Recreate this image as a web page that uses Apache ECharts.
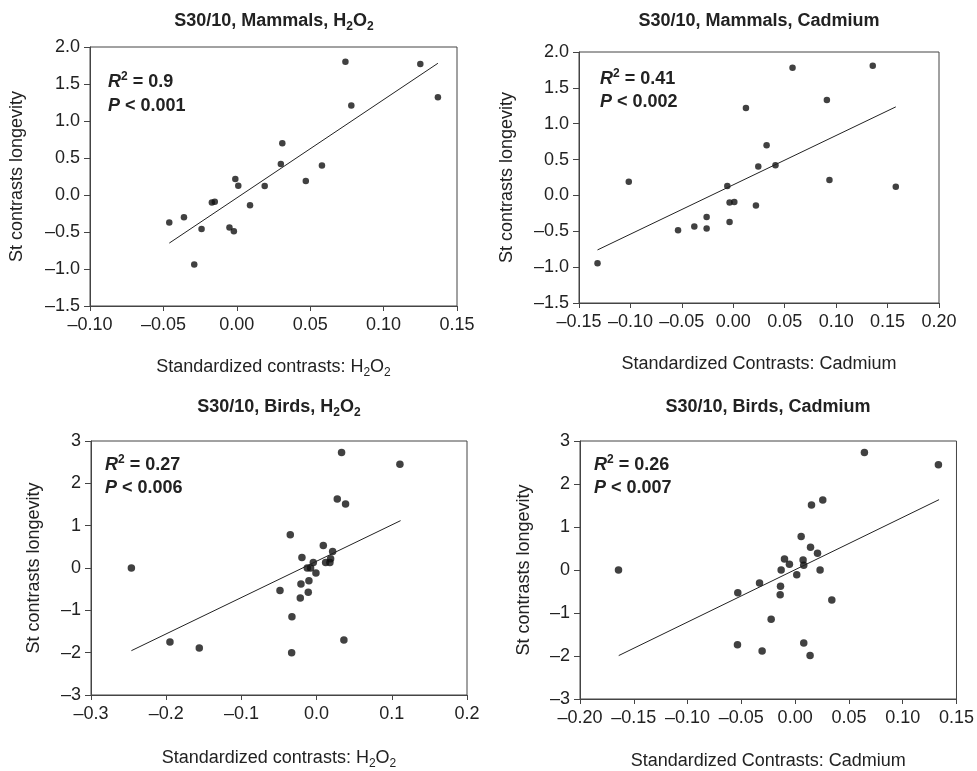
<!DOCTYPE html>
<html><head><meta charset="utf-8">
<script src="https://cdn.jsdelivr.net/npm/echarts@6/dist/echarts.min.js"></script>
<style>html,body{margin:0;padding:0;background:#fff}#c{width:977px;height:771px}</style>
</head><body><div id="c"></div>
<script>
const FONT = 'Liberation Sans, Arial, Helvetica, sans-serif';

// ---------- Panel 1: Mammals, H2O2 ----------
const mamH2O2X = [0.074, 0.125, 0.137, 0.078, 0.031, 0.030, 0.058, -0.001, 0.001, 0.019, 0.047, -0.017, -0.015, 0.009, -0.036, -0.046, -0.024, -0.005, -0.002, -0.029];
const mamH2O2Y = [1.80, 1.77, 1.32, 1.21, 0.70, 0.42, 0.40, 0.215, 0.125, 0.12, 0.19, -0.10, -0.09, -0.14, -0.30, -0.37, -0.46, -0.44, -0.49, -0.94];
const mamH2O2FitX = [-0.046, 0.137];
const mamH2O2FitY = [-0.65, 1.78];

// ---------- Panel 2: Mammals, Cadmium ----------
const mamCdX = [0.0576, 0.1356, 0.091, 0.0123, 0.0324, 0.0243, 0.041, -0.1016, 0.0935, 0.158, -0.0058, -0.0036, 0.001, 0.022, -0.0259, -0.0379, -0.0259, -0.0537, -0.0036, -0.132];
const mamCdY = [1.78, 1.81, 1.33, 1.22, 0.70, 0.405, 0.42, 0.19, 0.215, 0.12, 0.13, -0.10, -0.09, -0.14, -0.30, -0.435, -0.46, -0.485, -0.37, -0.945];
const mamCdFitX = [-0.132, 0.158];
const mamCdFitY = [-0.76, 1.235];

// ---------- Panel 3: Birds, H2O2 ----------
const birdH2O2X = [0.0332, 0.1108, 0.0275, 0.0385, -0.035, 0.0089, 0.0213, -0.0195, -0.0044, 0.012, 0.0177, 0.0186, -0.0124, -0.008, -0.0009, -0.2463, -0.0102, -0.0208, -0.0487, -0.0111, -0.0217, -0.0328, -0.195, -0.156, -0.0332, 0.0363];
const birdH2O2Y = [2.73, 2.45, 1.63, 1.51, 0.785, 0.53, 0.39, 0.25, 0.13, 0.13, 0.13, 0.22, 0.00, 0.00, -0.12, 0.00, -0.30, -0.375, -0.53, -0.57, -0.71, -1.15, -1.75, -1.89, -2.00, -1.70];
const birdH2O2FitX = [-0.2463, 0.1117];
const birdH2O2FitY = [-1.953, 1.119];

// ---------- Panel 4: Birds, Cadmium ----------
const birdCdX = [0.0644, 0.1332, 0.0257, 0.0152, 0.0056, 0.0143, 0.0208, -0.0099, -0.0053, 0.0074, 0.008, -0.013, 0.0232, 0.0015, -0.1642, -0.0331, -0.0136, -0.0533, -0.0139, 0.0341, -0.0223, -0.0536, -0.0307, 0.008, 0.0139];
const birdCdY = [2.73, 2.45, 1.63, 1.51, 0.78, 0.53, 0.39, 0.256, 0.136, 0.234, 0.113, 0.00, 0.00, -0.113, 0.00, -0.30, -0.377, -0.528, -0.573, -0.70, -1.146, -1.74, -1.884, -1.70, -1.99];
const birdCdFitX = [-0.164, 0.1338];
const birdCdFitY = [-1.99, 1.636];

// ---------- Axis ranges [min, max, interval] and label decimals ----------
const xRanges = [[-0.10, 0.15, 0.05], [-0.15, 0.20, 0.05], [-0.3, 0.2, 0.1], [-0.20, 0.15, 0.05]];
const yRanges = [[-1.5, 2.0, 0.5], [-1.5, 2.0, 0.5], [-3, 3, 1], [-3, 3, 1]];
const xDecimals = [2, 2, 1, 2];
const yDecimals = [1, 1, 0, 0];

// ---------- Texts ----------
const titles = ['{b|S30/10, Mammals, H}{s|2}{b|O}{s|2}', '{b|S30/10, Mammals, Cadmium}', '{b|S30/10, Birds, H}{s|2}{b|O}{s|2}', '{b|S30/10, Birds, Cadmium}'];
const xNames = ['{n|Standardized contrasts: H}{s|2}{n|O}{s|2}', '{n|Standardized Contrasts: Cadmium}', '{n|Standardized contrasts: H}{s|2}{n|O}{s|2}', '{n|Standardized Contrasts: Cadmium}'];
const yName = 'St contrasts longevity';
const r2Values = ['0.9', '0.41', '0.27', '0.26'];
const pValues = ['0.001', '0.002', '0.006', '0.007'];

const panels = [
  {x: mamH2O2X, y: mamH2O2Y, fx: mamH2O2FitX, fy: mamH2O2FitY},
  {x: mamCdX, y: mamCdY, fx: mamCdFitX, fy: mamCdFitY},
  {x: birdH2O2X, y: birdH2O2Y, fx: birdH2O2FitX, fy: birdH2O2FitY},
  {x: birdCdX, y: birdCdY, fx: birdCdFitX, fy: birdCdFitY}
];

// layout (pixels)
const gridBoxes = [
  {left: 90, top: 47, width: 367, height: 259},
  {left: 579, top: 52, width: 360, height: 251},
  {left: 91, top: 441, width: 376, height: 263},
  {left: 580, top: 441, width: 377, height: 265}
];
const xNameGaps = [49, 49, 51, 50];
const yNameGaps = [64, 63, 48, 47];
const symbolSizes = [6.5, 6.5, 7.5, 7.5];
const titlePos = [[274, 21], [759, 21], [279, 407], [768, 407]];
const annPos = [[108, 82, 106], [600, 79, 102], [105, 465, 488], [594, 465, 488]];

const TXT = '#222';
const AX = '#444';

function fmt(d) {
  return function (v) {
    if (Math.abs(v) < 1e-9) v = 0;
    return v.toFixed(d).replace('-', '\u2013');
  };
}

const subRich = {
  n: {fontSize: 18, fontFamily: FONT, color: TXT, lineHeight: 24},
  s: {fontSize: 12, fontFamily: FONT, color: TXT, lineHeight: 13, verticalAlign: 'bottom'}
};

const grid = [], xAxis = [], yAxis = [], series = [], graphic = [];
panels.forEach(function (p, i) {
  grid.push(Object.assign({show: true, borderColor: AX, borderWidth: 1, backgroundColor: 'transparent'}, gridBoxes[i]));
  xAxis.push({
    gridIndex: i, type: 'value', min: xRanges[i][0], max: xRanges[i][1], interval: xRanges[i][2],
    axisLine: {onZero: false, lineStyle: {color: AX, width: 1}},
    axisTick: {length: 5, lineStyle: {color: AX}},
    axisLabel: {fontSize: 18, fontFamily: FONT, color: TXT, margin: 10, formatter: fmt(xDecimals[i]), showMinLabel: true, showMaxLabel: true},
    splitLine: {show: false},
    name: xNames[i], nameLocation: 'middle', nameGap: xNameGaps[i],
    nameTextStyle: {fontSize: 18, fontFamily: FONT, color: TXT, rich: subRich}
  });
  yAxis.push({
    gridIndex: i, type: 'value', min: yRanges[i][0], max: yRanges[i][1], interval: yRanges[i][2],
    axisLine: {onZero: false, lineStyle: {color: AX, width: 1}},
    axisTick: {length: 6, lineStyle: {color: AX}},
    axisLabel: {fontSize: 18, fontFamily: FONT, color: TXT, margin: 10, formatter: fmt(yDecimals[i]), showMinLabel: true, showMaxLabel: true},
    splitLine: {show: false},
    name: yName, nameLocation: 'middle', nameGap: yNameGaps[i],
    nameTextStyle: {fontSize: 18, fontFamily: FONT, color: TXT}
  });
  series.push({
    type: 'scatter', xAxisIndex: i, yAxisIndex: i, symbol: 'circle', symbolSize: symbolSizes[i],
    itemStyle: {color: '#111'}, silent: true,
    data: p.x.map(function (v, k) { return [v, p.y[k]]; })
  });
  series.push({
    type: 'line', xAxisIndex: i, yAxisIndex: i, symbol: 'none', silent: true,
    lineStyle: {color: '#222', width: 1},
    data: p.fx.map(function (v, k) { return [v, p.fy[k]]; })
  });
  graphic.push({
    type: 'text', x: titlePos[i][0], y: titlePos[i][1],
    style: {
      text: titles[i], align: 'center', textAlign: 'center', verticalAlign: 'middle', textVerticalAlign: 'middle',
      rich: {
        b: {fontSize: 18, fontWeight: 'bold', fontFamily: FONT, fill: TXT, color: TXT, lineHeight: 24},
        s: {fontSize: 12, fontWeight: 'bold', fontFamily: FONT, fill: TXT, color: TXT, lineHeight: 13, verticalAlign: 'bottom'}
      }
    }
  });
  const annRich = {
    i: {fontSize: 18, fontWeight: 'bold', fontStyle: 'italic', fontFamily: FONT, fill: TXT, color: TXT, lineHeight: 22},
    b: {fontSize: 18, fontWeight: 'bold', fontFamily: FONT, fill: TXT, color: TXT, lineHeight: 22},
    sup: {fontSize: 12, fontWeight: 'bold', fontFamily: FONT, fill: TXT, color: TXT, lineHeight: 12, verticalAlign: 'top'}
  };
  graphic.push({
    type: 'text', x: annPos[i][0], y: annPos[i][1],
    style: {text: '{i|R}{sup|2}{b| = ' + r2Values[i] + '}', align: 'left', textAlign: 'left', verticalAlign: 'middle', textVerticalAlign: 'middle', rich: annRich}
  });
  graphic.push({
    type: 'text', x: annPos[i][0], y: annPos[i][2],
    style: {text: '{i|P}{b| < ' + pValues[i] + '}', align: 'left', textAlign: 'left', verticalAlign: 'middle', textVerticalAlign: 'middle', rich: annRich}
  });
});

const chart = echarts.init(document.getElementById('c'), null, {renderer: 'canvas'});
chart.setOption({
  animation: false,
  backgroundColor: '#fff',
  grid: grid, xAxis: xAxis, yAxis: yAxis, series: series, graphic: graphic
});
</script>
</body></html>
